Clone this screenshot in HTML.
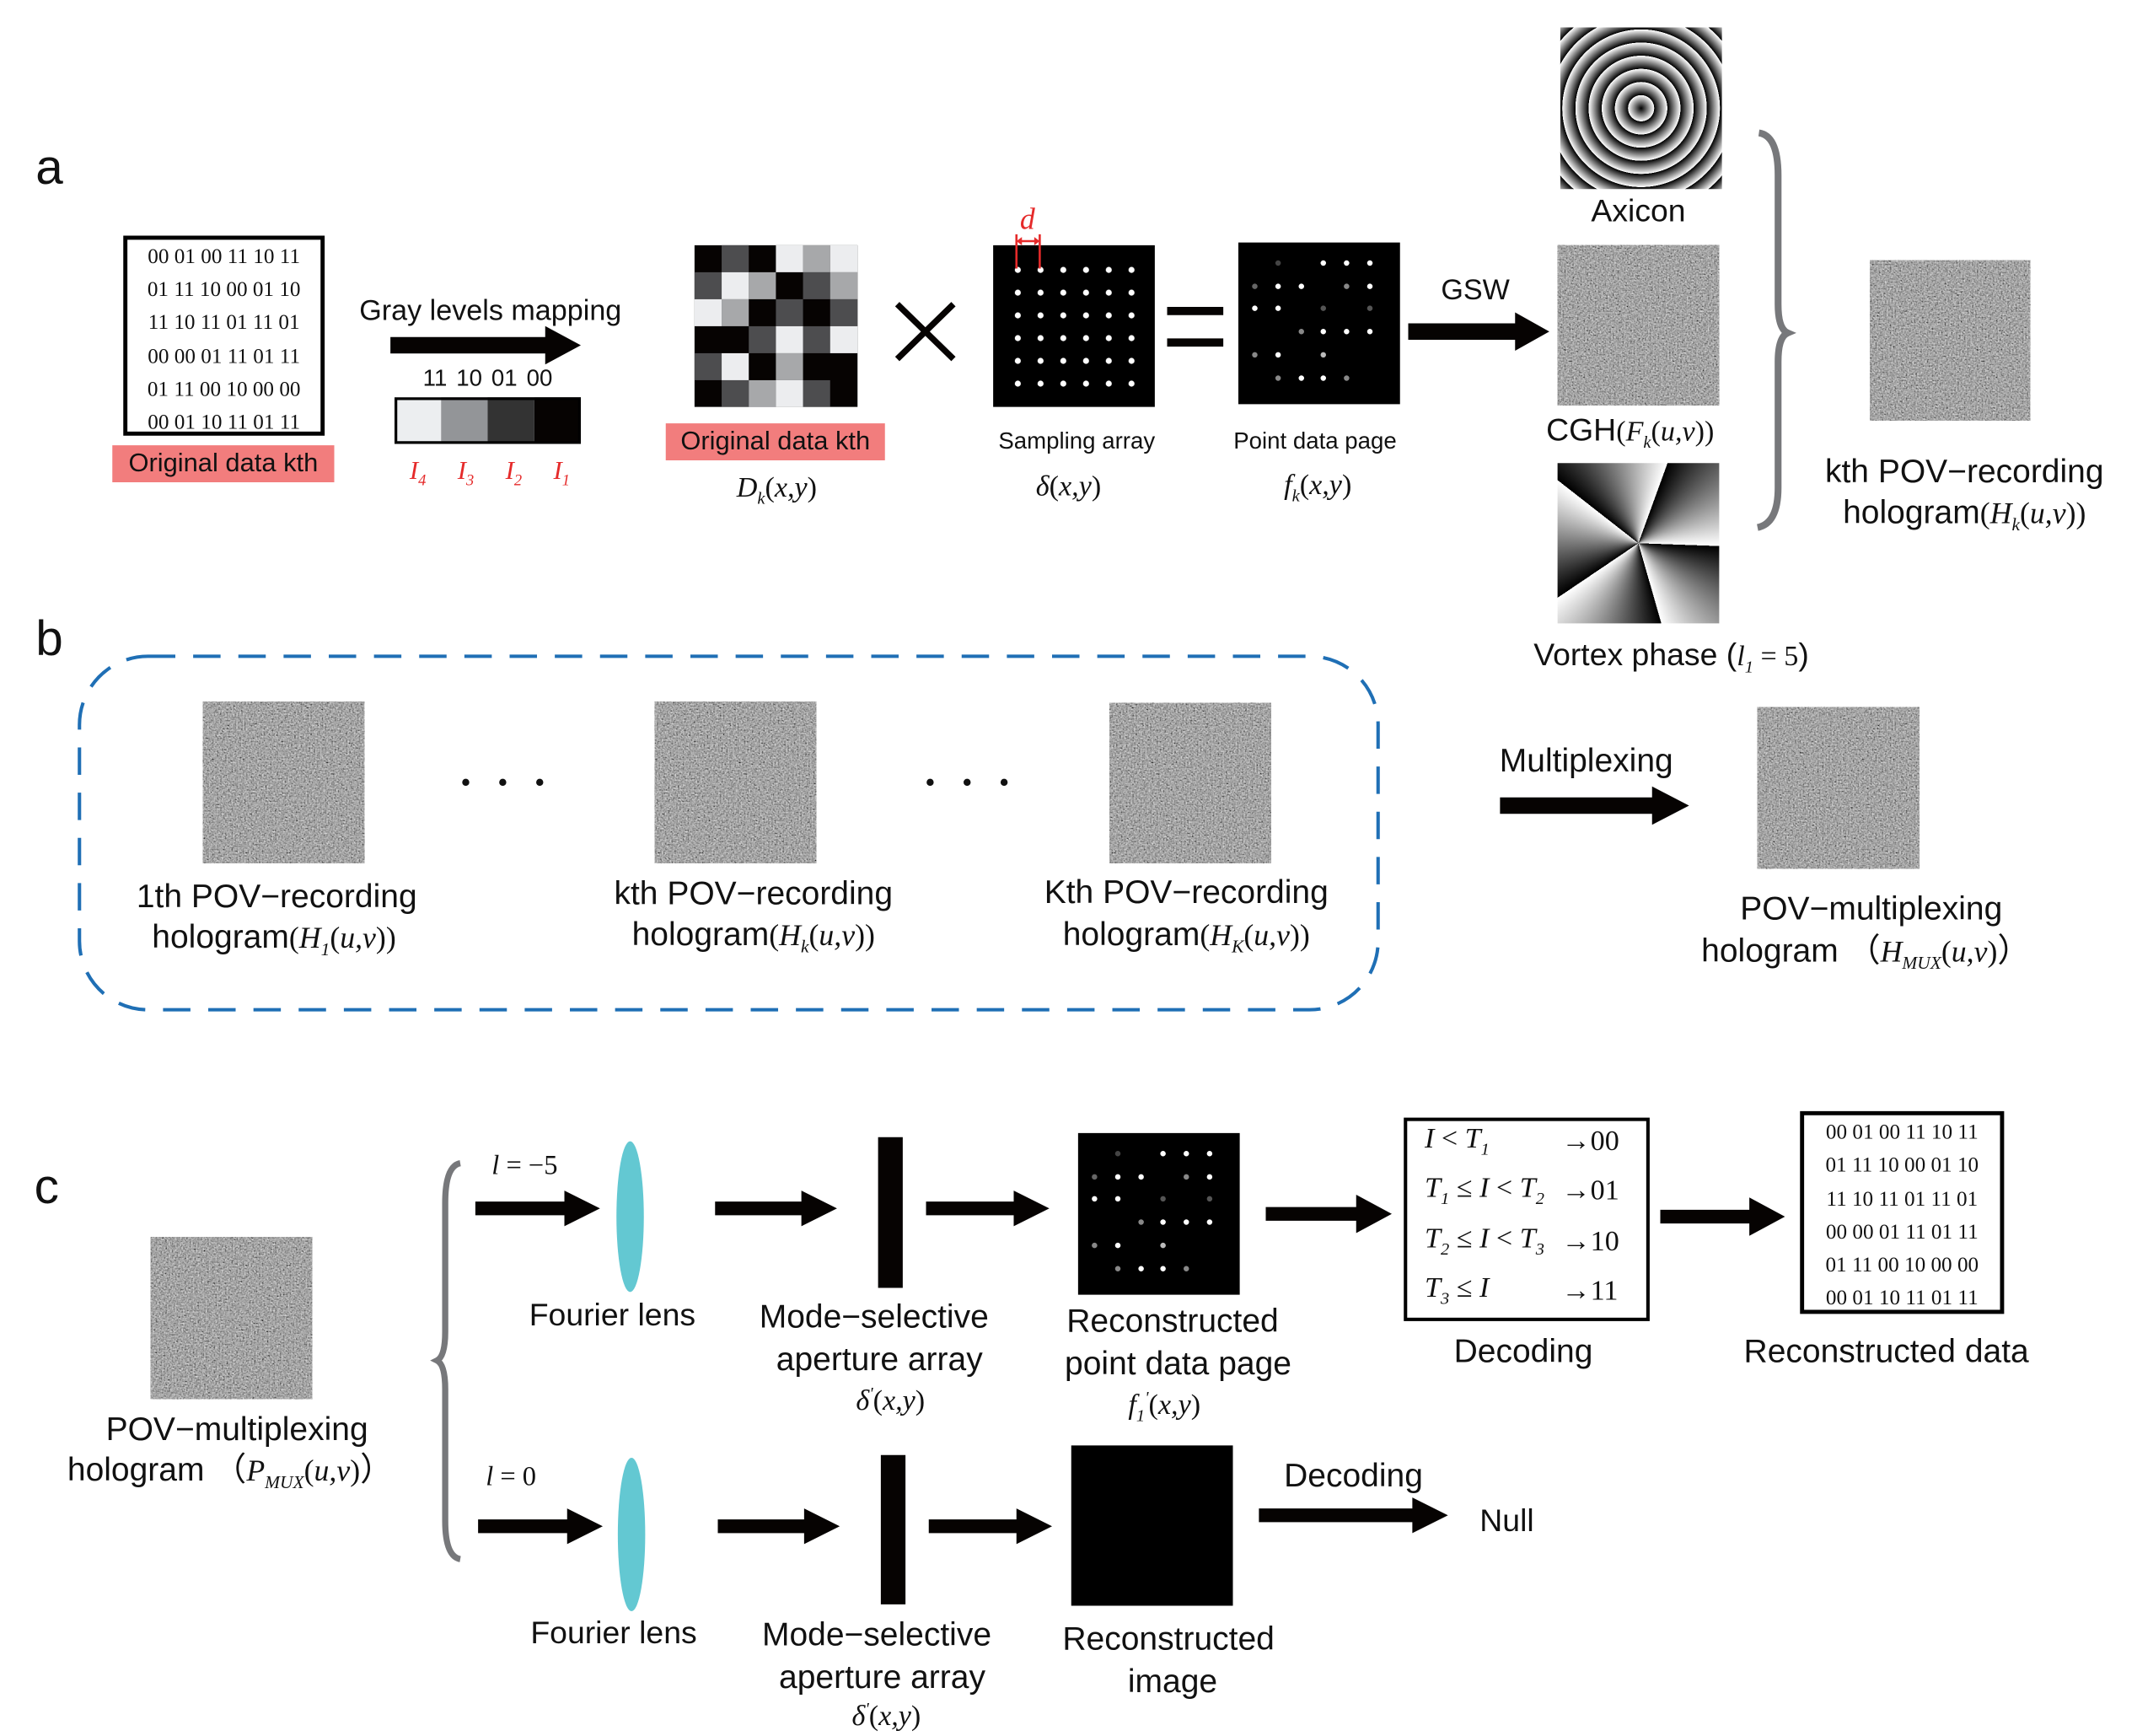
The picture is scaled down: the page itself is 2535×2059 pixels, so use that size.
<!DOCTYPE html>
<html><head><meta charset="utf-8"><style>
html,body{margin:0;padding:0;background:#fff;width:2535px;height:2059px;overflow:hidden}
#w{position:absolute;left:0;top:0;width:1560px;height:1267px;transform:scale(1.625);transform-origin:0 0;font-family:"Liberation Sans",sans-serif;color:#111}
.t{position:absolute;transform:translate(-50%,-50%);white-space:nowrap;line-height:1}
.l{position:absolute;transform:translate(0,-50%);white-space:nowrap;line-height:1}
.m{font-family:"Liberation Serif",serif;font-style:italic}
.m sub{font-size:60%}
.pink{position:absolute;background:#f27d7d;font-size:19px;text-align:center;line-height:27px}
.data{position:absolute;border:3px solid #000;font-family:"Liberation Serif",serif;font-size:15.5px;box-sizing:border-box;text-align:center;line-height:24.2px;padding-top:1px}
.img{position:absolute}
</style></head><body><div id="w">
<svg width="1560" height="1267" style="position:absolute;left:0;top:0">
<defs>
<filter id="nz" x="0" y="0" width="1" height="1"><feTurbulence type="fractalNoise" baseFrequency="0.85" numOctaves="2" seed="3"/><feColorMatrix type="matrix" values="0.33 0.33 0.33 0 0 0.33 0.33 0.33 0 0 0.33 0.33 0.33 0 0 0 0 0 0 1"/><feComponentTransfer><feFuncR type="linear" slope="1.5" intercept="-0.37"/><feFuncG type="linear" slope="1.5" intercept="-0.37"/><feFuncB type="linear" slope="1.5" intercept="-0.37"/></feComponentTransfer></filter>
<pattern id="sp" x="734.7" y="188.7" width="16.6" height="16.6" patternUnits="userSpaceOnUse"><circle cx="8.3" cy="8.3" r="2.2" fill="#fff"/></pattern>
<g id="pts">
<circle cx="933" cy="192" r="2" fill="#444"/><circle cx="966" cy="192" r="2" fill="#fff"/><circle cx="983" cy="192" r="2" fill="#fff"/><circle cx="1000" cy="192" r="2" fill="#fff"/>
<circle cx="916" cy="209" r="2" fill="#666"/><circle cx="933" cy="209" r="2" fill="#fff"/><circle cx="950" cy="209" r="2" fill="#fff"/><circle cx="983" cy="209" r="2" fill="#888"/><circle cx="1000" cy="209" r="2" fill="#fff"/>
<circle cx="916" cy="225" r="2" fill="#fff"/><circle cx="933" cy="225" r="2" fill="#fff"/><circle cx="966" cy="225" r="2" fill="#555"/><circle cx="1000" cy="225" r="2" fill="#555"/>
<circle cx="950" cy="242" r="2" fill="#888"/><circle cx="966" cy="242" r="2" fill="#fff"/><circle cx="983" cy="242" r="2" fill="#fff"/><circle cx="1000" cy="242" r="2" fill="#fff"/>
<circle cx="916" cy="259" r="2" fill="#888"/><circle cx="933" cy="259" r="2" fill="#fff"/><circle cx="966" cy="259" r="2" fill="#bbb"/>
<circle cx="933" cy="276" r="2" fill="#888"/><circle cx="950" cy="276" r="2" fill="#fff"/><circle cx="966" cy="276" r="2" fill="#fff"/><circle cx="983" cy="276" r="2" fill="#888"/>
</g>
</defs>
<rect x="288" y="290" width="34" height="34" fill="#eceef0"/><rect x="322" y="290" width="34" height="34" fill="#939598"/><rect x="356" y="290" width="34" height="34" fill="#333"/><rect x="390" y="290" width="34" height="34" fill="#060302"/>
<rect x="289" y="291" width="134" height="32" fill="none" stroke="#000" stroke-width="2"/>
<g transform="translate(507,179)">
<rect width="119" height="118" fill="#060302"/>
<g fill="#4d4d4f"><rect x="19.8" y="0" width="19.8" height="19.7"/><rect x="0" y="19.7" width="19.8" height="19.7"/><rect x="79.2" y="19.7" width="19.8" height="19.7"/><rect x="59.4" y="39.4" width="19.8" height="19.7"/><rect x="99" y="39.4" width="20" height="19.7"/><rect x="39.6" y="59.1" width="19.8" height="19.7"/><rect x="79.2" y="59.1" width="19.8" height="19.7"/><rect x="0" y="78.8" width="19.8" height="19.7"/><rect x="19.8" y="98.5" width="19.8" height="19.5"/><rect x="79.2" y="98.5" width="19.8" height="19.5"/></g>
<g fill="#a7a8aa"><rect x="79.2" y="0" width="19.8" height="19.7"/><rect x="39.6" y="19.7" width="19.8" height="19.7"/><rect x="99" y="19.7" width="20" height="19.7"/><rect x="19.8" y="39.4" width="19.8" height="19.7"/><rect x="59.4" y="78.8" width="19.8" height="19.7"/><rect x="39.6" y="98.5" width="19.8" height="19.5"/></g>
<g fill="#ecedef"><rect x="59.4" y="0" width="19.8" height="19.7"/><rect x="99" y="0" width="20" height="19.7"/><rect x="19.8" y="19.7" width="19.8" height="19.7"/><rect x="0" y="39.4" width="19.8" height="19.7"/><rect x="59.4" y="59.1" width="19.8" height="19.7"/><rect x="99" y="59.1" width="20" height="19.7"/><rect x="19.8" y="78.8" width="19.8" height="19.7"/><rect x="59.4" y="98.5" width="19.8" height="19.5"/></g>
</g>
<g fill="#060302">
<polygon points="285,246 398,246 398,238 424,252 398,266 398,258 285,258"/>
<polygon points="1028,236 1106,236 1106,228 1131,242 1106,256 1106,248 1028,248"/>
<polygon points="1095,582 1206,582 1206,574 1233,588 1206,602 1206,594 1095,594"/>
<polygon points="347,877 412,877 412,869 438,882 412,895 412,887 347,887"/>
<polygon points="522,877 585,877 585,869 611,882 585,895 585,887 522,887"/>
<polygon points="676,877 740,877 740,869 766,882 740,895 740,887 676,887"/>
<polygon points="924,881 990,881 990,872 1016,886 990,900 990,891 924,891"/>
<polygon points="1212,883 1277,883 1277,874 1303,888 1277,902 1277,893 1212,893"/>
<polygon points="349,1109 414,1109 414,1101 440,1114 414,1127 414,1119 349,1119"/>
<polygon points="524,1109 587,1109 587,1101 613,1114 587,1127 587,1119 524,1119"/>
<polygon points="678,1109 742,1109 742,1101 768,1114 742,1127 742,1119 678,1119"/>
<polygon points="919,1101 1031,1101 1031,1093 1057,1106 1031,1119 1031,1111 919,1111"/>
</g>
<path d="M655,222 L696,262 M696,222 L655,262" stroke="#060302" stroke-width="4.5"/>
<rect x="852" y="224" width="41" height="6" fill="#060302"/><rect x="852" y="247" width="41" height="6" fill="#060302"/>
<rect x="725" y="179" width="118" height="118" fill="#000"/>
<rect x="734.7" y="188.7" width="99.6" height="99.6" fill="url(#sp)"/>
<path d="M742,171 V196 M759,171 V196 M744,176 H757" stroke="#e52a2a" stroke-width="1.6"/>
<path d="M742,176 l4,-3 v6 z M759,176 l-4,-3 v6 z" fill="#e52a2a"/>
<rect x="904" y="177" width="118" height="118" fill="#000"/>
<use href="#pts"/>
<rect x="787" y="827" width="118" height="118" fill="#000"/>
<use href="#pts" transform="translate(-117,650)"/>
<rect x="782" y="1055" width="118" height="117" fill="#000"/>
<rect x="1137" y="179" width="118" height="117" filter="url(#nz)"/>
<rect x="1365" y="190" width="117" height="117" filter="url(#nz)"/>
<rect x="148" y="512" width="118" height="118" filter="url(#nz)"/>
<rect x="478" y="512" width="118" height="118" filter="url(#nz)"/>
<rect x="810" y="513" width="118" height="117" filter="url(#nz)"/>
<rect x="1283" y="516" width="118" height="118" filter="url(#nz)"/>
<rect x="110" y="903" width="118" height="118" filter="url(#nz)"/>
<path d="M1284,97 Q1298,99 1298,128 L1298,222 Q1298,240 1305,243 Q1298,246 1298,264 L1298,356 Q1298,382 1283,385" fill="none" stroke="#77787b" stroke-width="5"/>
<path d="M336,849 Q325,851 325,878 L325,972 Q325,990 319,993 Q325,996 325,1014 L325,1110 Q325,1136 336,1138" fill="none" stroke="#77787b" stroke-width="4.5"/>
<rect x="58" y="479" width="948" height="258" rx="50" ry="50" fill="none" stroke="#1f6fb5" stroke-width="2.5" stroke-dasharray="20 13"/>
<g fill="#111"><circle cx="340" cy="571" r="2.6"/><circle cx="367" cy="571" r="2.6"/><circle cx="394" cy="571" r="2.6"/><circle cx="679" cy="571" r="2.6"/><circle cx="706" cy="571" r="2.6"/><circle cx="733" cy="571" r="2.6"/></g>
<ellipse cx="460" cy="888" rx="10" ry="55" fill="#63c8d2"/>
<ellipse cx="461" cy="1120" rx="10" ry="56" fill="#63c8d2"/>
<rect x="641" y="830" width="18" height="110" fill="#060302"/>
<rect x="643" y="1062" width="18" height="109" fill="#060302"/>
<rect x="1026" y="817" width="177" height="146" fill="none" stroke="#000" stroke-width="2.5"/>
</svg>

<div class="img" style="left:1139px;top:20px;width:118px;height:118px;background:repeating-radial-gradient(circle at 50% 50%,#000 0px,#fff 9.5px,#000 9.6px)"></div>
<div class="img" style="left:1137px;top:338px;width:118px;height:117px;background:repeating-conic-gradient(from 20deg at 50% 50%,#000 0deg,#fff 72deg)"></div>

<div class="t" style="left:36px;top:122px;font-size:36px">a</div>
<div class="t" style="left:36px;top:466px;font-size:36px">b</div>
<div class="t" style="left:34px;top:866px;font-size:36px">c</div>

<div class="data" style="left:90px;top:172px;width:147px;height:146px">00 01 00 11 10 11<br>01 11 10 00 01 10<br>11 10 11 01 11 01<br>00 00 01 11 01 11<br>01 11 00 10 00 00<br>00 01 10 11 01 11</div>
<div class="pink" style="left:82px;top:325px;width:162px">Original data kth</div>
<div class="t" style="left:358px;top:227px;font-size:21px">Gray levels mapping</div>
<div class="t" style="left:356px;top:276px;font-size:17px;word-spacing:2px">11 10 01 00</div>
<div class="t m" style="left:305px;top:346px;font-size:19px;color:#e52a2a">I<sub>4</sub></div>
<div class="t m" style="left:340px;top:346px;font-size:19px;color:#e52a2a">I<sub>3</sub></div>
<div class="t m" style="left:375px;top:346px;font-size:19px;color:#e52a2a">I<sub>2</sub></div>
<div class="t m" style="left:410px;top:346px;font-size:19px;color:#e52a2a">I<sub>1</sub></div>
<div class="pink" style="left:486px;top:309px;width:160px">Original data kth</div>
<div class="t m" style="left:567px;top:358px;font-size:21px">D<sub>k</sub><span style="font-style:normal">(</span>x,y<span style="font-style:normal">)</span></div>
<div class="t m" style="left:750px;top:160px;font-size:22px;color:#e52a2a">d</div>
<div class="t" style="left:786px;top:322px;font-size:17px">Sampling array</div>
<div class="t m" style="left:780px;top:355px;font-size:21px">δ<span style="font-style:normal">(</span>x,y<span style="font-style:normal">)</span></div>
<div class="t" style="left:960px;top:322px;font-size:17px">Point data page</div>
<div class="t m" style="left:962px;top:356px;font-size:21px">f<sub>k</sub><span style="font-style:normal">(</span>x,y<span style="font-style:normal">)</span></div>
<div class="t" style="left:1077px;top:212px;font-size:21px">GSW</div>
<div class="t" style="left:1196px;top:154px;font-size:23px">Axicon</div>
<div class="t" style="left:1190px;top:316px;font-size:23px">CGH<span class="m" style="font-size:21px"><span style="font-style:normal">(</span>F<sub>k</sub><span style="font-style:normal">(</span>u,v<span style="font-style:normal">))</span></span></div>
<div class="t" style="left:1220px;top:480px;font-size:23px">Vortex phase (<span class="m" style="font-size:21px">l<sub>1</sub> <span style="font-style:normal">= 5</span></span>)</div>
<div class="t" style="left:1434px;top:345px;font-size:24px">kth POV−recording</div>
<div class="t" style="left:1434px;top:376px;font-size:24px">hologram<span class="m" style="font-size:22px"><span style="font-style:normal">(</span>H<sub>k</sub><span style="font-style:normal">(</span>u,v<span style="font-style:normal">))</span></span></div>

<div class="t" style="left:202px;top:655px;font-size:24px">1th POV−recording</div>
<div class="t" style="left:200px;top:686px;font-size:24px">hologram<span class="m" style="font-size:22px"><span style="font-style:normal">(</span>H<sub>1</sub><span style="font-style:normal">(</span>u,v<span style="font-style:normal">))</span></span></div>
<div class="t" style="left:550px;top:653px;font-size:24px">kth POV−recording</div>
<div class="t" style="left:550px;top:684px;font-size:24px">hologram<span class="m" style="font-size:22px"><span style="font-style:normal">(</span>H<sub>k</sub><span style="font-style:normal">(</span>u,v<span style="font-style:normal">))</span></span></div>
<div class="t" style="left:866px;top:652px;font-size:24px">Kth POV−recording</div>
<div class="t" style="left:866px;top:684px;font-size:24px">hologram<span class="m" style="font-size:22px"><span style="font-style:normal">(</span>H<sub>K</sub><span style="font-style:normal">(</span>u,v<span style="font-style:normal">))</span></span></div>
<div class="t" style="left:1158px;top:556px;font-size:24px">Multiplexing</div>
<div class="t" style="left:1366px;top:664px;font-size:24px">POV−multiplexing</div>
<div class="t" style="left:1362px;top:696px;font-size:24px">hologram （<span class="m" style="font-size:22px">H<sub>MUX</sub><span style="font-style:normal">(</span>u,v<span style="font-style:normal">)</span></span>）</div>

<div class="t" style="left:173px;top:1044px;font-size:24px">POV−multiplexing</div>
<div class="t" style="left:168px;top:1075px;font-size:24px">hologram （<span class="m" style="font-size:22px">P<sub>MUX</sub><span style="font-style:normal">(</span>u,v<span style="font-style:normal">)</span></span>）</div>
<div class="t m" style="left:383px;top:851px;font-size:20px">l <span style="font-style:normal">= −5</span></div>
<div class="t m" style="left:373px;top:1078px;font-size:20px">l <span style="font-style:normal">= 0</span></div>
<div class="t" style="left:447px;top:960px;font-size:23px">Fourier lens</div>
<div class="t" style="left:448px;top:1192px;font-size:23px">Fourier lens</div>
<div class="t" style="left:638px;top:962px;font-size:24px">Mode−selective</div>
<div class="t" style="left:642px;top:993px;font-size:24px">aperture array</div>
<div class="t m" style="left:650px;top:1022px;font-size:21px">δ<sup style="font-size:60%">'</sup><span style="font-style:normal">(</span>x,y<span style="font-style:normal">)</span></div>
<div class="t" style="left:640px;top:1194px;font-size:24px">Mode−selective</div>
<div class="t" style="left:644px;top:1225px;font-size:24px">aperture array</div>
<div class="t m" style="left:647px;top:1252px;font-size:21px">δ<sup style="font-size:60%">'</sup><span style="font-style:normal">(</span>x,y<span style="font-style:normal">)</span></div>
<div class="t" style="left:856px;top:965px;font-size:24px">Reconstructed</div>
<div class="t" style="left:860px;top:996px;font-size:24px">point data page</div>
<div class="t m" style="left:850px;top:1027px;font-size:21px">f<sub>1</sub><sup style="font-size:60%">'</sup><span style="font-style:normal">(</span>x,y<span style="font-style:normal">)</span></div>
<div class="t" style="left:853px;top:1197px;font-size:24px">Reconstructed</div>
<div class="t" style="left:856px;top:1228px;font-size:24px">image</div>
<div class="t" style="left:988px;top:1078px;font-size:24px">Decoding</div>
<div class="t" style="left:1100px;top:1110px;font-size:23px">Null</div>

<div class="l m" style="left:1040px;top:833px;font-size:21px">I <span style="font-style:normal">&lt;</span> T<sub>1</sub></div>
<div class="l m" style="left:1040px;top:869px;font-size:21px">T<sub>1</sub> <span style="font-style:normal">≤</span> I <span style="font-style:normal">&lt;</span> T<sub>2</sub></div>
<div class="l m" style="left:1040px;top:906px;font-size:21px">T<sub>2</sub> <span style="font-style:normal">≤</span> I <span style="font-style:normal">&lt;</span> T<sub>3</sub></div>
<div class="l m" style="left:1040px;top:942px;font-size:21px">T<sub>3</sub> <span style="font-style:normal">≤</span> I</div>
<div class="l" style="left:1140px;top:833px;font-size:21px;font-family:'Liberation Serif',serif">→00</div>
<div class="l" style="left:1140px;top:869px;font-size:21px;font-family:'Liberation Serif',serif">→01</div>
<div class="l" style="left:1140px;top:906px;font-size:21px;font-family:'Liberation Serif',serif">→10</div>
<div class="l" style="left:1140px;top:942px;font-size:21px;font-family:'Liberation Serif',serif">→11</div>
<div class="t" style="left:1112px;top:987px;font-size:24px">Decoding</div>
<div class="data" style="left:1314px;top:811px;width:149px;height:148px;line-height:24.3px">00 01 00 11 10 11<br>01 11 10 00 01 10<br>11 10 11 01 11 01<br>00 00 01 11 01 11<br>01 11 00 10 00 00<br>00 01 10 11 01 11</div>
<div class="t" style="left:1377px;top:987px;font-size:24px">Reconstructed data</div>
</div></body></html>
